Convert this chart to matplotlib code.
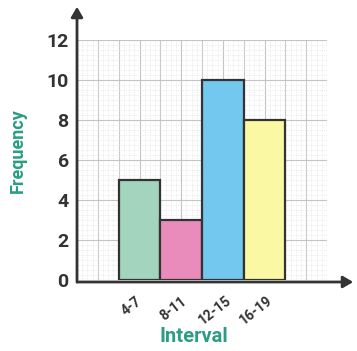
import matplotlib
matplotlib.use("Agg")
import matplotlib.pyplot as plt
import matplotlib.transforms as mtransforms
from matplotlib.ticker import MultipleLocator

categories = ["4-7", "8-11", "12-15", "16-19"]
frequency = [5, 3, 10, 8]
bar_colors = ["#a2d4be", "#e98bbb", "#72c8ee", "#fbf8a4"]
y_ticks = [0, 2, 4, 6, 8, 10, 12]

teal = "#2a9d84"
dark = "#333333"

W, H = 357, 351
fig = plt.figure(figsize=(W / 100, H / 100), dpi=100)
ax = fig.add_axes([77 / W, 71 / H, 250 / W, 240 / H])

x_pos = [3 + 2 * i for i in range(len(categories))]
ax.bar(x_pos, frequency, width=2, color=bar_colors, edgecolor=dark,
       linewidth=1.6, zorder=3)

ax.set_xlim(0, 12)
ax.set_ylim(0, 12)
ax.set_yticks(y_ticks)
ax.set_yticklabels([str(v) for v in y_ticks], fontsize=14, fontweight="bold",
                   color=dark, family="Roboto")
ax.set_xticks(x_pos)
ax.set_xticklabels(categories, rotation=38, ha="center", va="top",
                   fontsize=10, color=dark, family="Roboto", fontweight="bold")
ax.tick_params(axis="both", length=0, pad=6)
ax.tick_params(axis="x", pad=10)
off = mtransforms.ScaledTranslation(-8 / 100, 0, fig.dpi_scale_trans)
for lbl in ax.get_xticklabels():
    lbl.set_transform(lbl.get_transform() + off)

ax.xaxis.set_minor_locator(MultipleLocator(0.25))
ax.yaxis.set_minor_locator(MultipleLocator(0.25))
ax.grid(True, which="major", axis="y", color="#c4c4c4", linewidth=0.8, zorder=0)
for xv in range(0, 13):
    ax.axvline(xv, color="#c4c4c4", linewidth=0.8, zorder=0)
ax.grid(True, which="minor", color="#dedede", linewidth=0.5,
        linestyle=(0, (1, 1.5)), zorder=0)
ax.tick_params(which="minor", length=0)

for s in ["top", "right", "left", "bottom"]:
    ax.spines[s].set_visible(False)

# axes with arrows
fig.add_artist(matplotlib.patches.FancyArrowPatch(
    (77 / W, 1 - 285 / H), (77 / W, 1 - 4 / H), transform=fig.transFigure,
    arrowstyle="-|>,head_length=6,head_width=3.5", color=dark, linewidth=2,
    mutation_scale=1))
fig.add_artist(matplotlib.patches.FancyArrowPatch(
    (75 / W, 1 - 282 / H), (356 / W, 1 - 282 / H), transform=fig.transFigure,
    arrowstyle="-|>,head_length=6,head_width=3.5", color=dark, linewidth=2,
    mutation_scale=1))

fig.text(18 / W, 1 - 151 / H, "Frequency", rotation=90, ha="center",
         va="center", color=teal, fontsize=13, fontweight="bold",
         family="Roboto")
fig.text(194 / W, 1 - 337 / H, "Interval", ha="center", va="center",
         color=teal, fontsize=14.5, fontweight="bold", family="Roboto")

fig.savefig("out.png", dpi=100)
